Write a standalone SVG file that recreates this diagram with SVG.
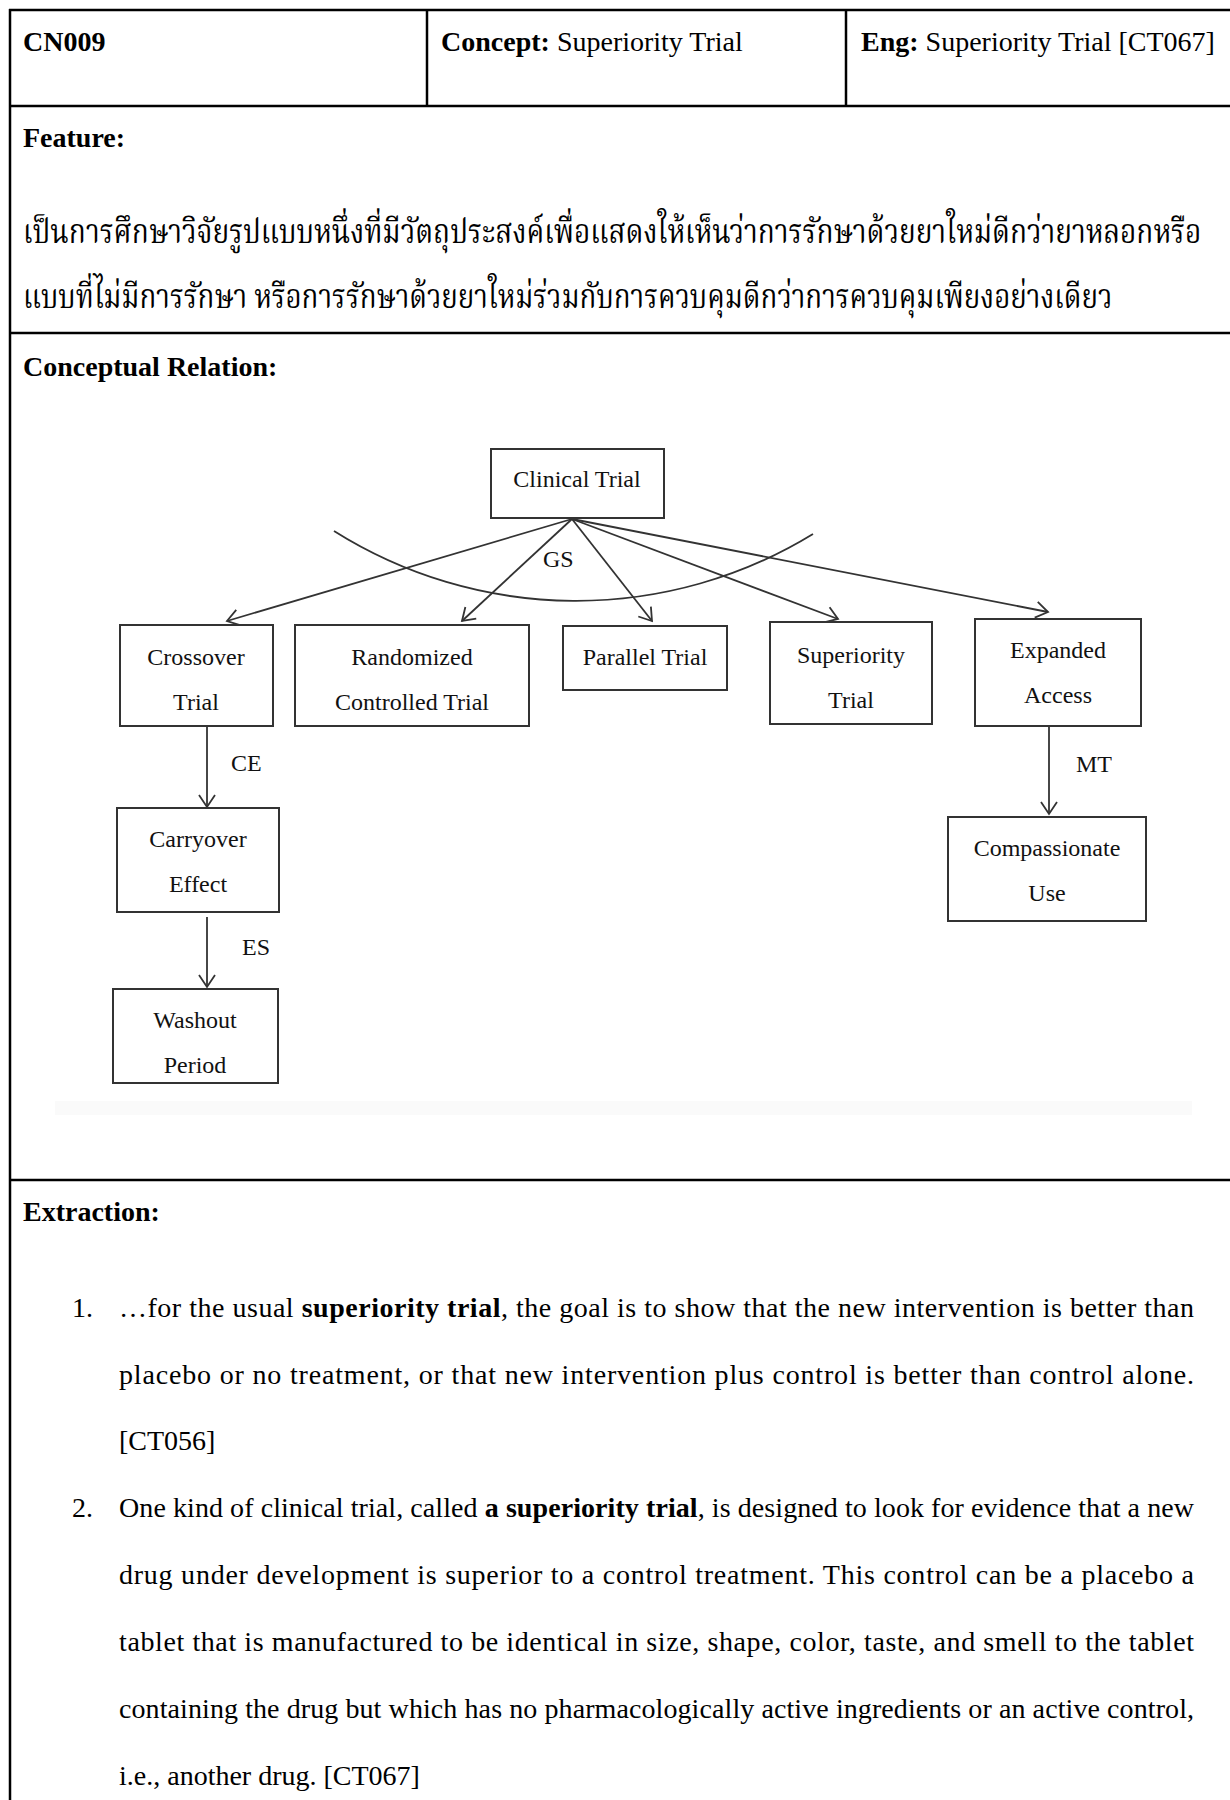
<svg xmlns="http://www.w3.org/2000/svg" width="1230" height="1800" viewBox="0 0 1230 1800">
  <style>
    .rule { stroke: #000; stroke-width: 2.5; fill: none; }
    .hd { font-family: "Liberation Serif", "Times New Roman", serif; font-size: 28px; fill: #000; }
    .b { font-weight: bold; }
    .th { font-family: "Noto Serif Thai", "Noto Sans Thai", "Norasi", "Loma", "Garuda", "Liberation Serif", serif; font-size: 33px; fill: #000; }
    .node rect { fill: #fff; stroke: #333; stroke-width: 2; }
    .node text, .lbl { font-family: "Liberation Serif", "Times New Roman", serif; font-size: 24px; fill: #111; text-anchor: middle; }
    .lbl { text-anchor: start; }
    .edge { stroke: #333; stroke-width: 1.8; fill: none; }
  </style>
  <defs>
    <marker id="open" viewBox="-14 -10 16 20" refX="0" refY="0" markerWidth="16" markerHeight="20" markerUnits="userSpaceOnUse" orient="auto" overflow="visible">
      <path d="M-12,-8 L0,0 L-12,8" fill="none" stroke="#333" stroke-width="1.8"/>
    </marker>
  </defs>

  <rect width="1230" height="1800" fill="#fff"/>

  <!-- table frame -->
  <g id="table">
    <line class="rule" x1="9" y1="10" x2="1230" y2="10"/>
    <line class="rule" x1="10" y1="9" x2="10" y2="1800"/>
    <line class="rule" x1="427" y1="10" x2="427" y2="106"/>
    <line class="rule" x1="846" y1="10" x2="846" y2="106"/>
    <line class="rule" x1="9" y1="106" x2="1230" y2="106"/>
    <line class="rule" x1="9" y1="333" x2="1230" y2="333"/>
    <line class="rule" x1="9" y1="1180" x2="1230" y2="1180" stroke-width="3"/>
  </g>

  <!-- header row -->
  <g id="header">
    <text class="hd b" x="23" y="51">CN009</text>
    <text class="hd" x="441" y="51"><tspan class="b">Concept:</tspan> Superiority Trial</text>
    <text class="hd" x="861" y="51"><tspan class="b">Eng:</tspan> Superiority Trial [CT067]</text>
  </g>

  <!-- feature row: Thai definition, set in a condensed face -->
  <g id="feature">
    <text class="hd b" x="23" y="147">Feature:</text>
    <g transform="translate(23,243) scale(0.855,1)">
      <text class="th" x="0" y="0" textLength="1378" lengthAdjust="spacingAndGlyphs">เป็นการศึกษาวิจัยรูปแบบหนึ่งที่มีวัตถุประสงค์เพื่อแสดงให้เห็นว่าการรักษาด้วยยาใหม่ดีกว่ายาหลอกหรือ</text>
    </g>
    <g transform="translate(23,308) scale(0.855,1)">
      <text class="th" x="0" y="0" textLength="1274" lengthAdjust="spacingAndGlyphs">แบบที่ไม่มีการรักษา หรือการรักษาด้วยยาใหม่ร่วมกับการควบคุมดีกว่าการควบคุมเพียงอย่างเดียว</text>
    </g>
  </g>

  <!-- conceptual relation row -->
  <text class="hd b" x="23" y="376">Conceptual Relation:</text>

  <!-- faint lower edge of the diagram panel -->
  <rect x="55" y="1101" width="1137" height="14" fill="#fafafa"/>

  <!-- connectors -->
  <g id="connectors">
    <path class="edge" d="M334,531 A454,454 0 0 0 813,534"/>
    <line class="edge" x1="572" y1="519" x2="227" y2="621" marker-end="url(#open)"/>
    <line class="edge" x1="572" y1="519" x2="462" y2="621" marker-end="url(#open)"/>
    <line class="edge" x1="572" y1="519" x2="652" y2="621" marker-end="url(#open)"/>
    <line class="edge" x1="572" y1="519" x2="838" y2="619" marker-end="url(#open)"/>
    <line class="edge" x1="572" y1="519" x2="1048" y2="612" marker-end="url(#open)"/>
    <line class="edge" x1="207" y1="727" x2="207" y2="807" marker-end="url(#open)"/>
    <line class="edge" x1="207" y1="917" x2="207" y2="987" marker-end="url(#open)"/>
    <line class="edge" x1="1049" y1="726" x2="1049" y2="814" marker-end="url(#open)"/>
    <text class="lbl" x="543" y="567">GS</text>
    <text class="lbl" x="231" y="771">CE</text>
    <text class="lbl" x="242" y="955">ES</text>
    <text class="lbl" x="1076" y="772">MT</text>
  </g>

  <!-- nodes -->
  <g id="clinical-trial" class="node">
    <rect x="491" y="449" width="173" height="69"/>
    <text x="577" y="487">Clinical Trial</text>
  </g>
  <g id="crossover-trial" class="node">
    <rect x="120" y="625" width="153" height="101"/>
    <text x="196" y="665">Crossover</text>
    <text x="196" y="710">Trial</text>
  </g>
  <g id="randomized-controlled-trial" class="node">
    <rect x="295" y="625" width="234" height="101"/>
    <text x="412" y="665">Randomized</text>
    <text x="412" y="710">Controlled Trial</text>
  </g>
  <g id="parallel-trial" class="node">
    <rect x="563" y="626" width="164" height="64"/>
    <text x="645" y="665">Parallel Trial</text>
  </g>
  <g id="superiority-trial" class="node">
    <rect x="770" y="622" width="162" height="102"/>
    <text x="851" y="663">Superiority</text>
    <text x="851" y="708">Trial</text>
  </g>
  <g id="expanded-access" class="node">
    <rect x="975" y="619" width="166" height="107"/>
    <text x="1058" y="658">Expanded</text>
    <text x="1058" y="703">Access</text>
  </g>
  <g id="carryover-effect" class="node">
    <rect x="117" y="808" width="162" height="104"/>
    <text x="198" y="847">Carryover</text>
    <text x="198" y="892">Effect</text>
  </g>
  <g id="washout-period" class="node">
    <rect x="113" y="989" width="165" height="94"/>
    <text x="195" y="1028">Washout</text>
    <text x="195" y="1073">Period</text>
  </g>
  <g id="compassionate-use" class="node">
    <rect x="948" y="817" width="198" height="104"/>
    <text x="1047" y="856">Compassionate</text>
    <text x="1047" y="901">Use</text>
  </g>

  <!-- extraction row -->
  <g id="extraction">
    <text class="hd b" x="23" y="1221">Extraction:</text>
    <text class="hd" x="72" y="1317">1.</text>
    <text class="hd" x="119" y="1317" textLength="1075" lengthAdjust="spacing">…for the usual <tspan class="b">superiority trial</tspan>, the goal is to show that the new intervention is better than</text>
    <text class="hd" x="119" y="1384" textLength="1075" lengthAdjust="spacing">placebo or no treatment, or that new intervention plus control is better than control alone.</text>
    <text class="hd" x="119" y="1450">[CT056]</text>
    <text class="hd" x="72" y="1517">2.</text>
    <text class="hd" x="119" y="1517" textLength="1075" lengthAdjust="spacing">One kind of clinical trial, called <tspan class="b">a superiority trial</tspan>, is designed to look for evidence that a new</text>
    <text class="hd" x="119" y="1584" textLength="1075" lengthAdjust="spacing">drug under development is superior to a control treatment. This control can be a placebo a</text>
    <text class="hd" x="119" y="1651" textLength="1075" lengthAdjust="spacing">tablet that is manufactured to be identical in size, shape, color, taste, and smell to the tablet</text>
    <text class="hd" x="119" y="1718" textLength="1075" lengthAdjust="spacing">containing the drug but which has no pharmacologically active ingredients or an active control,</text>
    <text class="hd" x="119" y="1785">i.e., another drug. [CT067]</text>
  </g>
</svg>
